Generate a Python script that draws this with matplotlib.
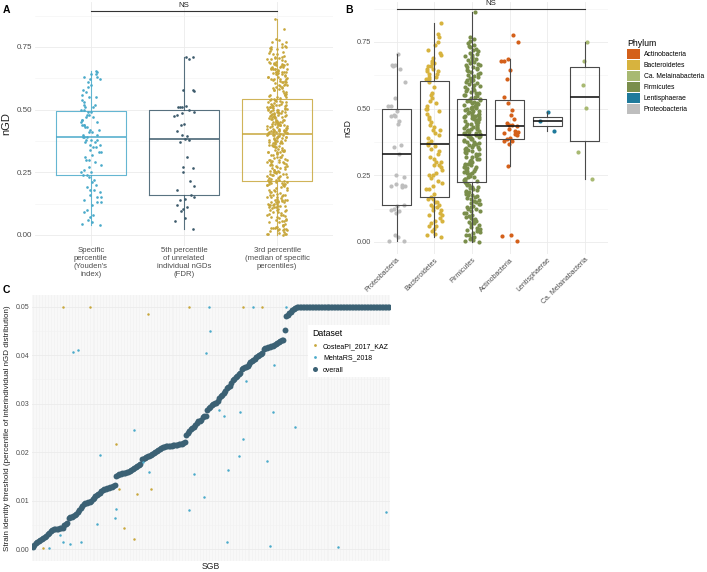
import numpy as np
import matplotlib
matplotlib.use('Agg')
import matplotlib.pyplot as plt
from matplotlib.patches import Patch
from matplotlib.lines import Line2D

plt.rcParams['font.family'] = ['Liberation Sans', 'DejaVu Sans']

# ---------------- panel A data (nGD thresholds per method)
youden = [0.04, 0.045, 0.05, 0.06, 0.07, 0.08, 0.09, 0.1, 0.12, 0.13, 0.13, 0.14, 0.15, 0.15, 0.16,
          0.17, 0.18, 0.18, 0.19, 0.2, 0.21, 0.22, 0.23, 0.24, 0.24,
          0.25, 0.25, 0.26, 0.27, 0.28, 0.29, 0.3, 0.3, 0.31, 0.32, 0.33, 0.33, 0.34, 0.35, 0.35,
          0.36, 0.36, 0.37, 0.37, 0.38, 0.38, 0.38, 0.39, 0.39,
          0.39, 0.4, 0.4, 0.41, 0.41, 0.42, 0.42, 0.43, 0.43, 0.44, 0.44, 0.44, 0.45, 0.45, 0.46,
          0.46, 0.47, 0.47, 0.48, 0.48, 0.49,
          0.49, 0.5, 0.5, 0.51, 0.51, 0.52, 0.52, 0.53, 0.54, 0.55, 0.55, 0.56, 0.57, 0.58, 0.59,
          0.6, 0.61, 0.62, 0.62, 0.63, 0.63, 0.64, 0.64, 0.65, 0.655]
fdr = [0.024, 0.057, 0.067, 0.097, 0.104, 0.113, 0.12, 0.14, 0.143, 0.15, 0.16, 0.18, 0.196,
       0.217, 0.253, 0.266, 0.27, 0.31, 0.37, 0.38, 0.384, 0.393, 0.40, 0.413, 0.44, 0.444,
       0.476, 0.48, 0.486, 0.49, 0.5, 0.51, 0.51, 0.51, 0.513, 0.573, 0.577, 0.58, 0.70, 0.71, 0.71]

# ---------------- panel B data (3rd percentile threshold per phylum)
proteo = [0.003, 0.005, 0.019, 0.028, 0.11, 0.116, 0.12, 0.125, 0.135, 0.14, 0.205, 0.209, 0.21,
          0.215, 0.218, 0.245, 0.25, 0.33, 0.355, 0.365, 0.444, 0.452, 0.471, 0.474, 0.475, 0.49,
          0.509, 0.511, 0.54, 0.60, 0.65, 0.661, 0.663, 0.665, 0.706]
bactero = [0.02, 0.025, 0.03, 0.04, 0.05, 0.06, 0.06, 0.07, 0.08, 0.08, 0.09, 0.1, 0.1, 0.11,
           0.12, 0.12, 0.13, 0.13, 0.14, 0.14, 0.15, 0.15, 0.16, 0.16,
           0.17, 0.18, 0.2, 0.2, 0.21, 0.22, 0.23, 0.24, 0.25, 0.25, 0.26, 0.27, 0.28, 0.29,
           0.29, 0.3, 0.3, 0.31, 0.32, 0.33, 0.34, 0.35, 0.36, 0.365,
           0.37, 0.38, 0.39, 0.4, 0.41, 0.42, 0.42, 0.43, 0.44, 0.45, 0.46, 0.47, 0.48, 0.49,
           0.5, 0.5, 0.51, 0.52, 0.53, 0.54, 0.55, 0.56, 0.58, 0.6,
           0.61, 0.61, 0.62, 0.62, 0.63, 0.63, 0.64, 0.64, 0.65, 0.65, 0.66, 0.66, 0.67, 0.67,
           0.68, 0.69, 0.7, 0.71, 0.72, 0.74, 0.75, 0.77, 0.78, 0.82]
firmi = [0.0, 0.003, 0.009, 0.011, 0.016, 0.019, 0.025, 0.028, 0.032, 0.037,
         0.041, 0.044, 0.05, 0.054, 0.057, 0.063, 0.066, 0.071, 0.074, 0.079,
         0.083, 0.086, 0.091, 0.095, 0.098, 0.103, 0.107, 0.11, 0.115, 0.117,
         0.122, 0.124, 0.13, 0.133, 0.135, 0.141, 0.144, 0.146, 0.151, 0.155,
         0.158, 0.161, 0.165, 0.168, 0.171, 0.176, 0.178, 0.181, 0.186, 0.188,
         0.191, 0.195, 0.198, 0.202, 0.205, 0.208, 0.212, 0.215, 0.219, 0.222,
         0.226, 0.228, 0.233, 0.236, 0.238, 0.242, 0.245, 0.246, 0.251, 0.254,
         0.257, 0.258, 0.263, 0.266, 0.268, 0.272, 0.275, 0.276, 0.281, 0.283,
         0.287, 0.29, 0.292, 0.294, 0.299, 0.301, 0.303, 0.308, 0.31, 0.312,
         0.317, 0.32, 0.321, 0.326, 0.329, 0.331, 0.335, 0.337, 0.34, 0.344,
         0.347, 0.349, 0.353, 0.355, 0.357, 0.362, 0.365, 0.366, 0.371, 0.374,
         0.376, 0.38, 0.382, 0.385, 0.388, 0.39, 0.393, 0.395, 0.397, 0.399,
         0.401, 0.404, 0.406, 0.408, 0.41, 0.413, 0.415, 0.417, 0.419, 0.422,
         0.424, 0.426, 0.428, 0.431, 0.433, 0.435, 0.438, 0.44, 0.442, 0.444,
         0.447, 0.449, 0.451, 0.453, 0.456, 0.458, 0.46, 0.463, 0.465, 0.467,
         0.469, 0.472, 0.474, 0.476, 0.478, 0.481, 0.483, 0.485, 0.488, 0.49,
         0.492, 0.494, 0.497, 0.499, 0.501, 0.504, 0.506, 0.508, 0.51, 0.513,
         0.515, 0.517, 0.52, 0.522, 0.524, 0.527, 0.529, 0.531, 0.534, 0.536,
         0.539, 0.543, 0.546, 0.55, 0.553, 0.557, 0.56, 0.564, 0.567, 0.571,
         0.574, 0.578, 0.581, 0.585, 0.588, 0.592, 0.595, 0.599, 0.602, 0.606,
         0.609, 0.613, 0.616, 0.62, 0.623, 0.627, 0.63, 0.634, 0.637, 0.641,
         0.644, 0.648, 0.651, 0.655, 0.658, 0.662, 0.665, 0.669, 0.672, 0.676,
         0.679, 0.683, 0.687, 0.69, 0.694, 0.698, 0.702, 0.706, 0.71, 0.715,
         0.72, 0.725, 0.73, 0.735, 0.74, 0.745, 0.752, 0.76, 0.77, 0.861]
actino = [0.003, 0.024, 0.028, 0.284, 0.369, 0.378, 0.38, 0.385, 0.39, 0.40, 0.405, 0.41, 0.412,
          0.415, 0.424, 0.434, 0.438, 0.44, 0.445, 0.461, 0.4775, 0.496, 0.52, 0.544, 0.6125,
          0.644, 0.678, 0.68, 0.685, 0.75, 0.778]
lenti = [0.415, 0.4525, 0.486]
melaina = [0.236, 0.336, 0.501, 0.59, 0.68, 0.749]

phyla = ['Proteobacteria', 'Bacteroidetes', 'Firmicutes', 'Actinobacteria',
         'Lentisphaerae', 'Ca. Melainabacteria']
phyla_data = [proteo, bactero, firmi, actino, lenti, melaina]
phyla_colors = {'Actinobacteria': '#D4601A', 'Bacteroidetes': '#D7B33E',
                'Ca. Melainabacteria': '#A8B972', 'Firmicutes': '#7A8E4B',
                'Lentisphaerae': '#1F7A9B', 'Proteobacteria': '#BEBEBE'}

# the 3rd percentile group pools every SGB of panel B
third = proteo + bactero + firmi + actino + lenti + melaina

methods = ['Specific\npercentile\n(Youden\'s\nindex)',
           '5th percentile\nof unrelated\nindividual nGDs\n(FDR)',
           '3rd percentile\n(median of specific\npercentiles)']
method_data = [youden, fdr, third]
method_colors = ['#4AAACA', '#3C5A6B', '#C8A73C']

# ---------------- panel C data (threshold per SGB, in units of 1e-3)
overall = [0.5, 0.9, 1.2, 1.5, 1.8, 2.0, 2.2, 2.4, 2.6, 2.8, 3.1, 3.4, 3.7, 4.0,
           4.1, 4.1, 4.2, 4.2, 4.3, 4.3, 4.4,
           5.0, 5.2, 5.4,
           6.4, 6.6, 6.7, 6.9, 7.1, 7.3, 7.6,
           8.0, 8.5, 9.0, 9.3, 9.5, 9.6, 9.7, 9.8,
           10.0, 10.3, 10.6, 11.0, 11.2, 11.4, 11.7, 12.0, 12.2,
           12.4, 12.5, 12.6, 12.7, 12.8, 12.9, 13.1, 13.2,
           15.2, 15.4, 15.5, 15.6, 15.7, 15.7, 15.8, 15.9, 16.0, 16.2, 16.4, 16.6,
           16.8, 17.0, 17.2, 17.4, 17.5,
           18.6, 18.7, 18.9, 19.0, 19.2, 19.3, 19.5, 19.7, 19.9, 20.1, 20.3, 20.5, 20.7,
           20.8, 21.0, 21.1, 21.2, 21.2, 21.3, 21.3, 21.3, 21.4, 21.4, 21.5, 21.5, 21.6,
           21.7, 21.8, 21.9, 22.1,
           23.5, 24.0, 24.4, 24.7, 25.0, 25.3, 25.6, 26.0,
           26.4, 26.5, 26.6, 27.2, 27.4, 27.5, 28.8,
           29.1, 29.4, 29.8, 30.0, 30.1, 30.2, 30.6, 31.2,
           31.5, 31.9, 32.3, 32.7, 33.3, 33.5, 33.7, 34.3, 34.8,
           35.1, 35.5, 35.8, 36.1, 36.4, 37.2, 37.4, 37.5,
           37.6, 37.8, 38.2, 38.6, 38.9, 39.1, 39.3, 39.6, 39.8, 40.0, 40.2, 40.4,
           41.3, 41.4, 41.5, 41.6, 41.8, 41.9, 42.0, 42.2, 42.4, 42.6, 42.8, 43.0, 43.1, 43.2,
           45.2,
           48.0, 48.3, 48.7, 49.0, 49.3, 49.6, 49.8] + [50.0] * 63
costea_sgb = [7, 20, 38, 77, 56, 58, 61, 68, 70, 79, 105, 141, 154]
costea_val = [0.2, 50, 50, 48.5, 21.7, 12.5, 4.3, 2.1, 11.3, 12.5, 50, 50, 50]
mehta_sgb = [11, 18, 20, 25, 27, 30, 32, 43, 45, 55, 56, 68, 74, 78, 105, 108, 115, 116, 118,
             119, 125, 128, 130, 131, 138, 139, 141, 143, 148, 157, 159, 161, 162, 170, 176,
             205, 237]
mehta_val = [0.3, 3.0, 1.4, 1.0, 40.7, 41.0, 1.4, 5.2, 19.5, 6.5, 8.2, 24.6, 18.0, 16.0, 8.0,
             15.5, 10.7, 40.5, 50, 45.0, 28.8, 27.5, 1.6, 16.3, 19.2, 28.3, 22.7, 34.6, 50,
             18.3, 0.6, 28.4, 38.0, 50, 25.2, 0.4, 7.7]

W, H = 707, 572
fig = plt.figure(figsize=(W / 100, H / 100), dpi=100)


def px_rect(l, t, r, b):
    return [l / W, 1 - b / H, (r - l) / W, (b - t) / H]


def jitter(n, w):
    # scattered but reproducible horizontal offsets, like geom_jitter
    u = (np.sin(np.arange(1, n + 1) * 12.9898) * 43758.5453) % 1
    return (u - 0.5) * 2 * w


def style(ax, size=5.8):
    for s in ax.spines.values():
        s.set_visible(False)
    ax.tick_params(which='both', length=0, labelsize=size, labelcolor='#4D4D4D', pad=2)
    ax.grid(True, which='major', color='#EBEBEB', lw=0.6)
    ax.grid(True, which='minor', axis='y', color='#F2F2F2', lw=0.4)
    ax.set_axisbelow(True)


# ================= panel A
axA = fig.add_axes(px_rect(35, 2, 333, 246))
style(axA)
for i, (d, c) in enumerate(zip(method_data, method_colors)):
    x = i + 1 + jitter(len(d), 0.11)
    axA.scatter(x, d, s=3.6, color=c, lw=0, zorder=2)
    axA.boxplot(d, positions=[i + 1], widths=0.75, showfliers=False, showcaps=False,
                zorder=3,
                boxprops=dict(color=c, lw=0.8, alpha=0.85),
                whiskerprops=dict(color=c, lw=0.8, alpha=0.85),
                medianprops=dict(color=c, lw=1.1))
axA.set_xlim(0.4, 3.6)
axA.set_ylim(-0.0439, 0.929)
axA.set_yticks([0, 0.25, 0.5, 0.75])
axA.set_yticklabels(['0.00', '0.25', '0.50', '0.75'])
axA.set_yticks([0.125, 0.375, 0.625, 0.875], minor=True)
axA.set_xticks([1, 2, 3])
axA.set_xticklabels(methods, fontsize=5.6, linespacing=1.2)
axA.tick_params(axis='x', pad=1)
axA.set_ylabel('nGD', fontsize=8, color='#222222', labelpad=4)
axA.plot([1, 3], [0.893, 0.893], color='#333333', lw=0.8, clip_on=False)
axA.text(2, 0.917, 'NS', ha='center', va='center', fontsize=5.6, color='#222222')

# ================= panel B
axB = fig.add_axes(px_rect(374, 2, 607.6, 253.7))
style(axB, 5.3)
for i, (name, d) in enumerate(zip(phyla, phyla_data)):
    x = i + 1 + jitter(len(d), 0.22)
    axB.scatter(x, d, s=9, color=phyla_colors[name], lw=0, zorder=2)
axB.boxplot(phyla_data, positions=range(1, 7), widths=0.77, showfliers=False, showcaps=False,
            zorder=3,
            boxprops=dict(color='#4A4A4A', lw=0.8),
            whiskerprops=dict(color='#4A4A4A', lw=0.8),
            medianprops=dict(color='#1A1A1A', lw=1.2))
axB.set_xlim(0.4, 6.6)
axB.set_ylim(-0.0439, 0.90)
axB.set_yticks([0, 0.25, 0.5, 0.75])
axB.set_yticklabels(['0.00', '0.25', '0.50', '0.75'])
axB.set_yticks([0.125, 0.375, 0.625, 0.875], minor=True)
axB.set_xticks(range(1, 7))
axB.set_xticklabels(phyla, rotation=45, ha='right', rotation_mode='anchor', fontsize=5)
axB.set_ylabel('nGD', fontsize=6.2, color='#222222', labelpad=3)
axB.plot([1, 6], [0.874, 0.874], color='#333333', lw=0.8, clip_on=False)
axB.text(3.5, 0.896, 'NS', ha='center', va='center', fontsize=5.6, color='#222222')

leg_order = ['Actinobacteria', 'Bacteroidetes', 'Ca. Melainabacteria', 'Firmicutes',
             'Lentisphaerae', 'Proteobacteria']
handles = [Patch(facecolor=phyla_colors[p], edgecolor='none') for p in leg_order]
fig.legend(handles, leg_order, loc='upper left', bbox_to_anchor=(622 / W, 1 - 34 / H),
           frameon=False, title='Phylum', fontsize=4.9, title_fontsize=6.3,
           handlelength=1.9, handleheight=1.9, labelspacing=0.12, handletextpad=0.5,
           borderpad=0.3, alignment='left')

# ================= panel C
N = len(overall)
sgb = np.arange(N)
axC = fig.add_axes(px_rect(32, 294.6, 390, 561.4))
style(axC, 5)
axC.grid(True, which='major', axis='x', color='#E6E6E6', lw=0.35)
axC.scatter(sgb, np.array(overall) / 1000, s=18, color='#3B6174', lw=0, zorder=3)
axC.scatter(costea_sgb, np.array(costea_val) / 1000, s=3.2, color='#C8A73C', lw=0, zorder=4)
axC.scatter(mehta_sgb, np.array(mehta_val) / 1000, s=3.2, color='#4AAACA', lw=0, zorder=4)
axC.set_xlim(-0.6, N - 0.4)
axC.set_ylim(-0.0025, 0.0525)
axC.set_xticks(sgb)
axC.set_xticklabels([])
axC.set_yticks([0, 0.01, 0.02, 0.03, 0.04, 0.05])
axC.set_yticklabels(['0.00', '0.01', '0.02', '0.03', '0.04', '0.05'])
axC.set_yticks([0.005, 0.015, 0.025, 0.035, 0.045], minor=True)
axC.set_xlabel('SGB', fontsize=6.2, color='#222222')
axC.xaxis.set_label_coords(0.5, -0.003)
axC.set_ylabel('Strain identity threshold (percentile of interindividual nGD distribution)',
               fontsize=5.8, color='#222222', labelpad=3)
c_handles = [Line2D([], [], ls='none', marker='o', ms=2, color='#C8A73C', mew=0),
             Line2D([], [], ls='none', marker='o', ms=2, color='#4AAACA', mew=0),
             Line2D([], [], ls='none', marker='o', ms=3.6, color='#3B6174', mew=0)]
legC = axC.legend(c_handles, ['CosteaPI_2017_KAZ', 'MehtaRS_2018', 'overall'],
                  loc='upper left', bbox_to_anchor=(305 / W, 1 - 322 / H),
                  bbox_transform=fig.transFigure, title='Dataset', fontsize=5,
                  title_fontsize=6.3, frameon=True, facecolor='white', edgecolor='none',
                  framealpha=1, fancybox=False, alignment='left', handlelength=1,
                  handletextpad=0.6, labelspacing=0.7, borderpad=0.5)
legC.set_zorder(10)

# panel letters
for lab, x, y in [('A', 3, 10), ('B', 345, 10), ('C', 3, 290)]:
    fig.text(x / W, 1 - y / H, lab, fontsize=7.5, fontweight='bold', va='center')

fig.savefig('out.png', dpi=100)
